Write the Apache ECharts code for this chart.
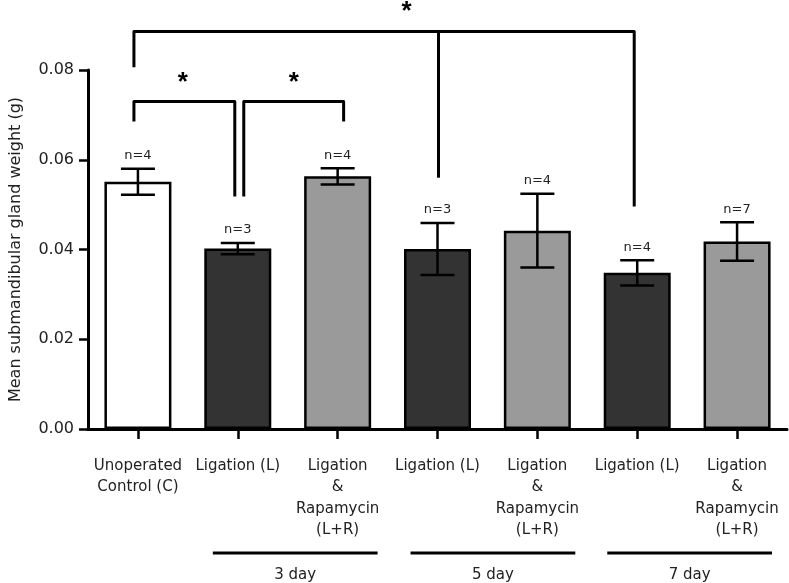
<!DOCTYPE html>
<html>
<head>
<meta charset="utf-8">
<script src="https://cdn.jsdelivr.net/npm/echarts@6/dist/echarts.min.js"></script>
<style>html,body{margin:0;padding:0;background:#fff}#c{width:789px;height:583px}</style>
</head>
<body>
<div id="c"></div>
<script>
const categories = ['Unoperated\nControl (C)', 'Ligation (L)', 'Ligation\n&\nRapamycin\n(L+R)', 'Ligation (L)', 'Ligation\n&\nRapamycin\n(L+R)', 'Ligation (L)', 'Ligation\n&\nRapamycin\n(L+R)'];
const means = [0.0551, 0.0402, 0.0563, 0.0401, 0.0442, 0.0348, 0.0418];
const sems = [0.0029, 0.00125, 0.0018, 0.0058, 0.0082, 0.0028, 0.0043];
const nCounts = [4, 3, 4, 3, 4, 4, 7];
const barColors = ['#ffffff', '#333333', '#9a9a9a', '#333333', '#9a9a9a', '#333333', '#9a9a9a'];
const yTicks = [0, 0.02, 0.04, 0.06, 0.08];
// significance brackets: [xLeft, xRight, yTop, yLeftEnd, yRightEnd] (category index, value)
const brackets = [
  [-0.04, 0.97, 0.0730, 0.0685, 0.0518],
  [1.06, 2.06, 0.0730, 0.0518, 0.0685],
  [-0.04, 4.97, 0.0886, 0.0806, 0.0496]
];
// extra drop legs: [x, yTop, yEnd]
const extraLegs = [[3.01, 0.0886, 0.0560]];
// stars: [x, value]
const stars = [[0.45, 0.0783], [1.56, 0.0783], [2.69, 0.0940]];
// groups: [xStart, xEnd, label]
const groups = [[0.75, 2.4, '3 day'], [2.73, 4.38, '5 day'], [4.7, 6.35, '7 day']];

const FONT = '"DejaVu Sans", sans-serif';
const chart = echarts.init(document.getElementById('c'), null, {renderer: 'canvas'});

function px(api, x, v) {
  const p0 = api.coord([0, v]);
  const band = api.size([1, 0])[0];
  return [p0[0] + x * band, p0[1]];
}

chart.setOption({
  animation: false,
  backgroundColor: '#fff',
  grid: {left: 86, right: 2, top: 70, bottom: 154, containLabel: false},
  xAxis: {
    type: 'category',
    data: categories,
    axisLine: {lineStyle: {color: '#000', width: 3}},
    axisTick: {show: true, alignWithLabel: true, length: 10, lineStyle: {color: '#000', width: 2.5}},
    axisLabel: {interval: 0, margin: 26, color: '#222', fontSize: 15, lineHeight: 21.5, fontFamily: FONT, align: 'center'},
    splitLine: {show: false}
  },
  yAxis: {
    type: 'value',
    min: yTicks[0], max: yTicks[yTicks.length - 1], interval: 0.02,
    name: 'Mean submandibular gland weight (g)',
    nameLocation: 'middle', nameGap: 64, nameRotate: 90,
    nameTextStyle: {color: '#222', fontSize: 16, fontFamily: FONT},
    axisLine: {show: true, lineStyle: {color: '#000', width: 3}},
    axisTick: {show: true, length: 9, lineStyle: {color: '#000', width: 2.5}},
    axisLabel: {color: '#222', fontSize: 16, fontFamily: FONT, margin: 14, formatter: v => v.toFixed(2)},
    splitLine: {show: false}
  },
  series: [
    {
      type: 'bar',
      barWidth: 67,
      data: means.map((m, i) => ({value: m, itemStyle: {color: barColors[i], borderColor: '#000', borderWidth: 2.5}})),
      z: 2
    },
    {
      type: 'custom',
      z: 5,
      data: means.map((m, i) => [i, m, sems[i], nCounts[i]]),
      encode: {x: 0, y: 1},
      renderItem: function (params, api) {
        const i = api.value(0), m = api.value(1), s = api.value(2), n = api.value(3);
        const top = api.coord([i, m + s]);
        const bot = api.coord([i, m - s]);
        const hw = 17;
        const st = {stroke: '#000', lineWidth: 2.5};
        return {
          type: 'group',
          children: [
            {type: 'line', shape: {x1: top[0], y1: top[1], x2: bot[0], y2: bot[1]}, style: st},
            {type: 'line', shape: {x1: top[0] - hw, y1: top[1], x2: top[0] + hw, y2: top[1]}, style: st},
            {type: 'line', shape: {x1: bot[0] - hw, y1: bot[1], x2: bot[0] + hw, y2: bot[1]}, style: st},
            {type: 'text', style: {text: 'n=' + n, x: top[0], y: top[1] - 13, align: 'center', verticalAlign: 'middle', fill: '#222', font: '13px ' + FONT}}
          ]
        };
      }
    },
    {
      type: 'custom',
      z: 6,
      clip: false,
      data: brackets,
      encode: {x: 0, y: 2},
      renderItem: function (params, api) {
        const b = brackets[params.dataIndex];
        const pl = px(api, b[0], b[3]);
        const tl = px(api, b[0], b[2]);
        const tr = px(api, b[1], b[2]);
        const pr = px(api, b[1], b[4]);
        const children = [{type: 'polyline', shape: {points: [pl, tl, tr, pr]}, style: {stroke: '#000', lineWidth: 3, fill: null, lineJoin: 'round'}}];
        if (params.dataIndex === brackets.length - 1) {
          extraLegs.forEach(l => {
            const a = px(api, l[0], l[1]), c = px(api, l[0], l[2]);
            children.push({type: 'line', shape: {x1: a[0], y1: a[1], x2: c[0], y2: c[1]}, style: {stroke: '#000', lineWidth: 3}});
          });
          stars.forEach(s => {
            const p = px(api, s[0], s[1]);
            children.push({type: 'text', style: {text: '*', x: p[0], y: p[1] + 5, align: 'center', verticalAlign: 'middle', fill: '#000', font: 'bold 26px "Liberation Sans", Arial, sans-serif'}});
          });
        }
        return {type: 'group', children: children};
      }
    },
    {
      type: 'custom',
      z: 6,
      clip: false,
      data: groups.map(g => [g[0], 0, g[1]]),
      encode: {x: 0, y: 1},
      renderItem: function (params, api) {
        const g = groups[params.dataIndex];
        const a = px(api, g[0], 0), b = px(api, g[1], 0);
        const y = a[1] + 124;
        return {
          type: 'group',
          children: [
            {type: 'line', shape: {x1: a[0], y1: y, x2: b[0], y2: y}, style: {stroke: '#000', lineWidth: 3}},
            {type: 'text', style: {text: g[2], x: (a[0] + b[0]) / 2, y: y + 22, align: 'center', verticalAlign: 'middle', fill: '#222', font: '15px ' + FONT}}
          ]
        };
      }
    }
  ]
});
</script>
</body>
</html>
